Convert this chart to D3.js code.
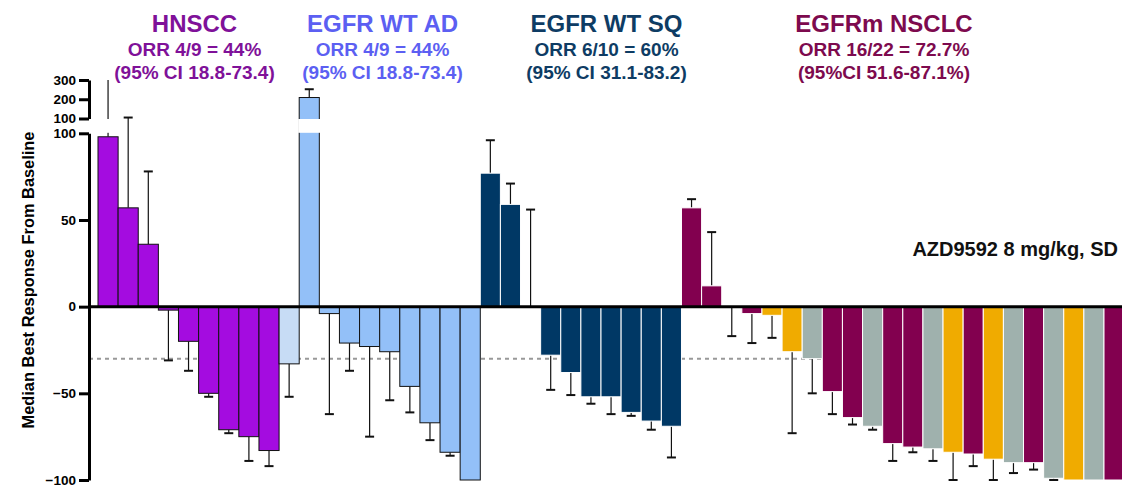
<!DOCTYPE html>
<html>
<head>
<meta charset="utf-8">
<script src="https://cdn.jsdelivr.net/npm/d3@7"></script>
<style>
  html, body { margin: 0; padding: 0; background: #fff; }
  svg { display: block; font-family: Arial, "Liberation Sans", sans-serif; }
</style>
</head>
<body>
<svg id="chart" width="1122" height="487"></svg>
<script>
// Best percentage change in tumour size per patient, ordered by cohort
const patientIds = d3.range(1, 52);
const cohort = [
  "HNSCC","HNSCC","HNSCC","HNSCC","HNSCC","HNSCC","HNSCC","HNSCC","HNSCC",
  "OTHER",
  "WTAD","WTAD","WTAD","WTAD","WTAD","WTAD","WTAD","WTAD","WTAD",
  "WTSQ","WTSQ","WTSQ","WTSQ","WTSQ","WTSQ","WTSQ","WTSQ","WTSQ","WTSQ",
  "M1","M1","M1","M1","M2","M2","M3","M1","M1","M3","M1","M1","M3","M2","M1","M2","M3","M1","M3","M2","M3","M1"
];
const response = [
  98, 57, 36, -2, -20, -50, -71, -75, -83,
  -33,
  209, -4, -21, -23, -26, -46, -67, -84, -100,
  77, 59, 0, -28, -38, -52, -52, -61, -66, -69,
  57, 12, 0, -4, -5, -26, -30, -49, -64, -69, -79, -81, -82, -84, -85, -88, -90, -90, -99, -100, -100, -100
];
// end of the one-sided error whisker (null = none drawn)
const errorEnd = [
  320, 105, 78, -31, -37, -52, -73, -89, -92,
  -52,
  252, -62, -37, -75, -54, -61, -77, -86, null,
  96, 71, 56, -48, -51, -56, -62, -63, -71, -87,
  62, 43, -17, -21, -18, -73, -50, -62, -68, -71, -89, -84, -89, -100, -92, -100, -96, -94, -100, null, null, null
];
const cohortColors = {
  HNSCC: "#a40ce0", OTHER: "#c7dcf5", WTAD: "#93c0f8", WTSQ: "#003865",
  M1: "#82004f", M2: "#f0ab00", M3: "#9fb1ad"
};
const outlined = new Set(["HNSCC", "OTHER", "WTAD"]);

const lowerTicks = [-100, -50, 0, 50, 100];
const upperTicks = [100, 200, 300];
const threshold = -30;

const headerNames = ["HNSCC", "EGFR WT AD", "EGFR WT SQ", "EGFRm NSCLC"];
const headerOrr = ["ORR 4/9 = 44%", "ORR 4/9 = 44%", "ORR 6/10 = 60%", "ORR 16/22 = 72.7%"];
const headerCi = ["(95% CI 18.8-73.4)", "(95% CI 18.8-73.4)", "(95% CI 31.1-83.2)", "(95%CI 51.6-87.1%)"];
const headerColors = ["#7f1199", "#5c5ff2", "#0e3c64", "#7d0a4e"];
const headerCenters = [194.5, 382.5, 606.5, 884];

const svg = d3.select("#chart");
const axisX = 89;
const step = 20.12;

const x = d3.scaleBand().domain(patientIds).range([98, 98 + step * patientIds.length]).padding(0);
const yLow = d3.scaleLinear().domain([-100, 100]).range([480, 133.3]);
const yUp = d3.scaleLinear().domain([100, 300]).range([118.5, 80]).clamp(true);
const y = v => (v <= 100 ? yLow(v) : yUp(v));

// white band that marks the break between the two axis segments
const breakGap = (g, x0, w) => g.append("rect")
  .attr("x", x0).attr("width", w)
  .attr("y", yUp(100) + 0.5).attr("height", yLow(100) - yUp(100) - 1)
  .attr("fill", "#fff");

// -30% response threshold
svg.append("line")
  .attr("x1", axisX).attr("x2", 1122)
  .attr("y1", yLow(threshold)).attr("y2", yLow(threshold))
  .attr("stroke", "#999").attr("stroke-width", 2).attr("stroke-dasharray", "4,4");

const rows = patientIds.map((id, i) => ({ id, c: cohort[i], v: response[i], e: errorEnd[i] }));

// error whiskers (drawn beneath the bars)
const err = svg.append("g").attr("stroke", "#111").attr("stroke-width", 1.2);
rows.filter(d => d.e !== null).forEach(d => {
  const cx = x(d.id) + x.bandwidth() / 2;
  err.append("line").attr("x1", cx).attr("x2", cx).attr("y1", y(d.v)).attr("y2", y(d.e));
  if (d.e <= 300) {
    err.append("line").attr("x1", cx - 4.5).attr("x2", cx + 4.5).attr("y1", y(d.e)).attr("y2", y(d.e))
      .attr("stroke-width", 2);
  } else {
    breakGap(err, cx - 2, 4).attr("stroke", "none");
  }
});

// bars; values above 100 continue on the compressed upper segment
const bars = svg.append("g");
rows.filter(d => d.v !== 0).forEach(d => {
  const stroke = outlined.has(d.c) ? "#111" : "#ffffff";
  bars.append("rect")
    .attr("x", x(d.id)).attr("width", x.bandwidth())
    .attr("y", Math.min(yLow(0), y(d.v))).attr("height", Math.abs(y(d.v) - yLow(0)))
    .attr("fill", cohortColors[d.c]).attr("stroke", stroke).attr("stroke-width", 1);
  if (d.v > 100) breakGap(bars, x(d.id) - 1, x.bandwidth() + 2);
});

// zero line
svg.append("line").attr("x1", axisX).attr("x2", 1122)
  .attr("y1", yLow(0)).attr("y2", yLow(0))
  .attr("stroke", "#000").attr("stroke-width", 3);

// broken y axis
function styleAxis(g) {
  g.select(".domain").attr("stroke", "#000").attr("stroke-width", 3);
  g.selectAll(".tick line").attr("stroke", "#000").attr("stroke-width", 3);
  g.selectAll(".tick text").attr("fill", "#000").attr("font-size", 13.5).attr("font-weight", "bold")
    .attr("font-family", "Arial, 'Liberation Sans', sans-serif");
}
svg.append("g").attr("transform", `translate(${axisX},0)`)
  .call(d3.axisLeft(yLow).tickValues(lowerTicks).tickSize(10).tickSizeOuter(0).tickPadding(3))
  .call(styleAxis);
svg.append("g").attr("transform", `translate(${axisX},0)`)
  .call(d3.axisLeft(yUp).tickValues(upperTicks).tickSize(10).tickSizeOuter(0).tickPadding(3))
  .call(styleAxis);

svg.append("text")
  .attr("transform", `translate(33.5,280) rotate(-90)`)
  .attr("text-anchor", "middle").attr("font-size", 16.4).attr("font-weight", "bold")
  .text("Median Best Response From Baseline");

// cohort headers
headerNames.forEach((name, i) => {
  const g = svg.append("g").attr("fill", headerColors[i]).attr("font-weight", "bold").attr("text-anchor", "middle");
  g.append("text").attr("x", headerCenters[i]).attr("y", 31.5).attr("font-size", 24).text(name);
  g.append("text").attr("x", headerCenters[i]).attr("y", 56).attr("font-size", 19).text(headerOrr[i]);
  g.append("text").attr("x", headerCenters[i]).attr("y", 78.5).attr("font-size", 19).text(headerCi[i]);
});

svg.append("text").attr("x", 1118).attr("y", 256).attr("text-anchor", "end")
  .attr("font-size", 20).attr("font-weight", "bold").attr("fill", "#111")
  .text("AZD9592 8 mg/kg, SD");
</script>
</body>
</html>
